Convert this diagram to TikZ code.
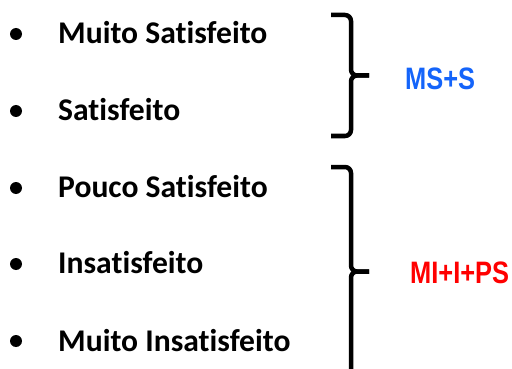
\documentclass[tikz,border=0pt]{standalone}
\usepackage{fontspec}
\setmainfont[Ligatures={NoCommon,NoRare}]{Carlito}
\newfontfamily\narrowfont[FakeStretch=0.82]{Liberation Sans}
\definecolor{msblue}{RGB}{20,100,250}
\definecolor{mired}{RGB}{255,0,0}
\begin{document}
\begin{tikzpicture}[x=1pt,y=-1pt,
  item/.style={anchor=base west,inner sep=0pt,font=\fontsize{31.6}{36}\selectfont\bfseries},
  dot/.style={circle,fill=black,inner sep=0pt,minimum size=12pt},
  brace/.style={line width=4.5pt,rounded corners=6pt},
  lbl/.style={anchor=base west,inner sep=0pt,font=\fontsize{31}{34}\selectfont\narrowfont\bfseries}]
\useasboundingbox (0,0) rectangle (512,369);
\clip (0,0) rectangle (512,369);
% bullets
\node[dot] (b1) at (16,34) {};
\node[dot] (b2) at (16,111) {};
\node[dot] (b3) at (16,188) {};
\node[dot] (b4) at (16,264) {};
\node[dot] (b5) at (16,341) {};
% items
\node[item] (t1) at (58,44) {Muito Satisfeito};
\node[item] (t2) at (58,121) {Satisfeito};
\node[item] (t3) at (58,197) {Pouco Satisfeito};
\node[item] (t4) at (58,273) {Insatisfeito};
\node[item] (t5) at (58,351) {Muito Insatisfeito};
% brace 1
\coordinate (a1) at (331,15);
\coordinate (m1) at (369,75.5);
\coordinate (z1) at (331,136);
\draw[brace] (a1) -- (351,15) -- (351,75.5) -- (m1);
\draw[brace] (m1) -- (351,75.5) -- (351,136) -- (z1);
% brace 2
\coordinate (a2) at (331,167);
\coordinate (m2) at (369,271.5);
\coordinate (z2) at (331,376);
\draw[brace] (a2) -- (351,167) -- (351,271.5) -- (m2);
\draw[brace] (m2) -- (351,271.5) -- (351,376) -- (z2);
% labels
\node[lbl,text=msblue] (l1) at (405,90) {MS+S};
\node[lbl,text=mired] (l2) at (410,283) {MI+I+PS};
\end{tikzpicture}
\end{document}
